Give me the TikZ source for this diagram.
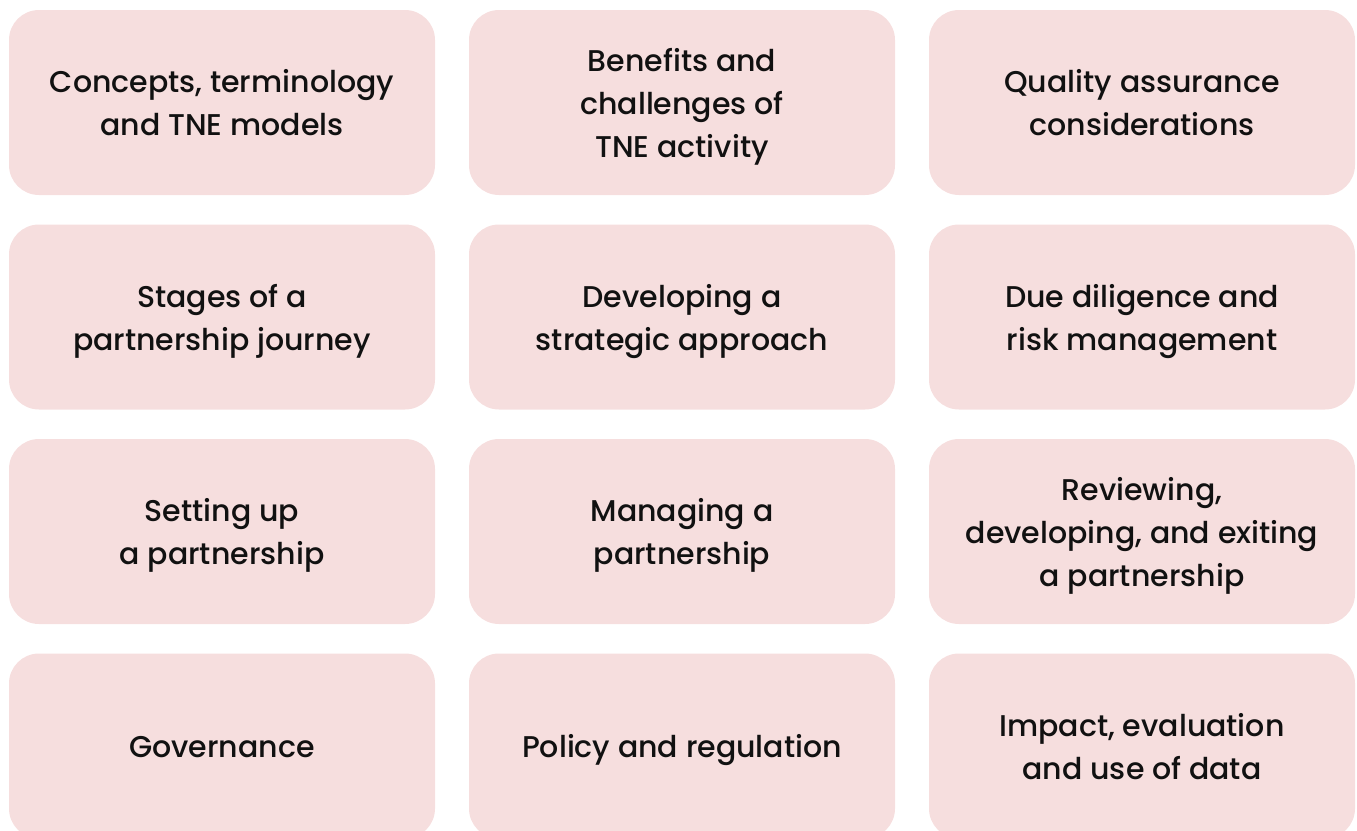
\documentclass[tikz,border=0pt]{standalone}
\usepackage{fontspec}
\IfFontExistsTF{Poppins Medium}{\setmainfont{Poppins Medium}}{\setmainfont{Poppins}}
\definecolor{boxfill}{HTML}{F6DEDE}
\definecolor{boxtext}{HTML}{111111}
\newcommand\lstrut{\rule[-10pt]{0pt}{43pt}}
\begin{document}
\begin{tikzpicture}[x=1pt,y=-1pt,
  topic/.style={fill=boxfill,draw=none,rounded corners=30pt,minimum width=426pt,minimum height=185pt,
    inner sep=0pt,align=center,text=boxtext,font=\fontsize{30}{43}\selectfont,anchor=center}]
\useasboundingbox (0,0) rectangle (1357,830);
\clip (0,0) rectangle (1357,830);
\node[topic] (a1) at (222,102.5) {\lstrut Concepts, terminology\\and TNE models\lstrut};
\node[topic] (a2) at (682,102.5) {\lstrut Benefits and\\challenges of\\TNE activity\lstrut};
\node[topic] (a3) at (1142,102.5) {\lstrut Quality assurance\\considerations\lstrut};
\node[topic] (b1) at (222,317) {\lstrut Stages of a\\partnership journey\lstrut};
\node[topic] (b2) at (682,317) {\lstrut Developing a\\strategic approach\lstrut};
\node[topic] (b3) at (1142,317) {\lstrut Due diligence and\\risk management\lstrut};
\node[topic] (c1) at (222,531.5) {\lstrut Setting up\\a partnership\lstrut};
\node[topic] (c2) at (682,531.5) {\lstrut Managing a\\partnership\lstrut};
\node[topic] (c3) at (1142,531.5) {\lstrut Reviewing,\\developing, and exiting\\a partnership\lstrut};
\node[topic] (d1) at (222,746) {\lstrut Governance\lstrut};
\node[topic] (d2) at (682,746) {\lstrut Policy and regulation\lstrut};
\node[topic] (d3) at (1142,746) {\lstrut Impact, evaluation\\and use of data\lstrut};
\end{tikzpicture}
\end{document}
